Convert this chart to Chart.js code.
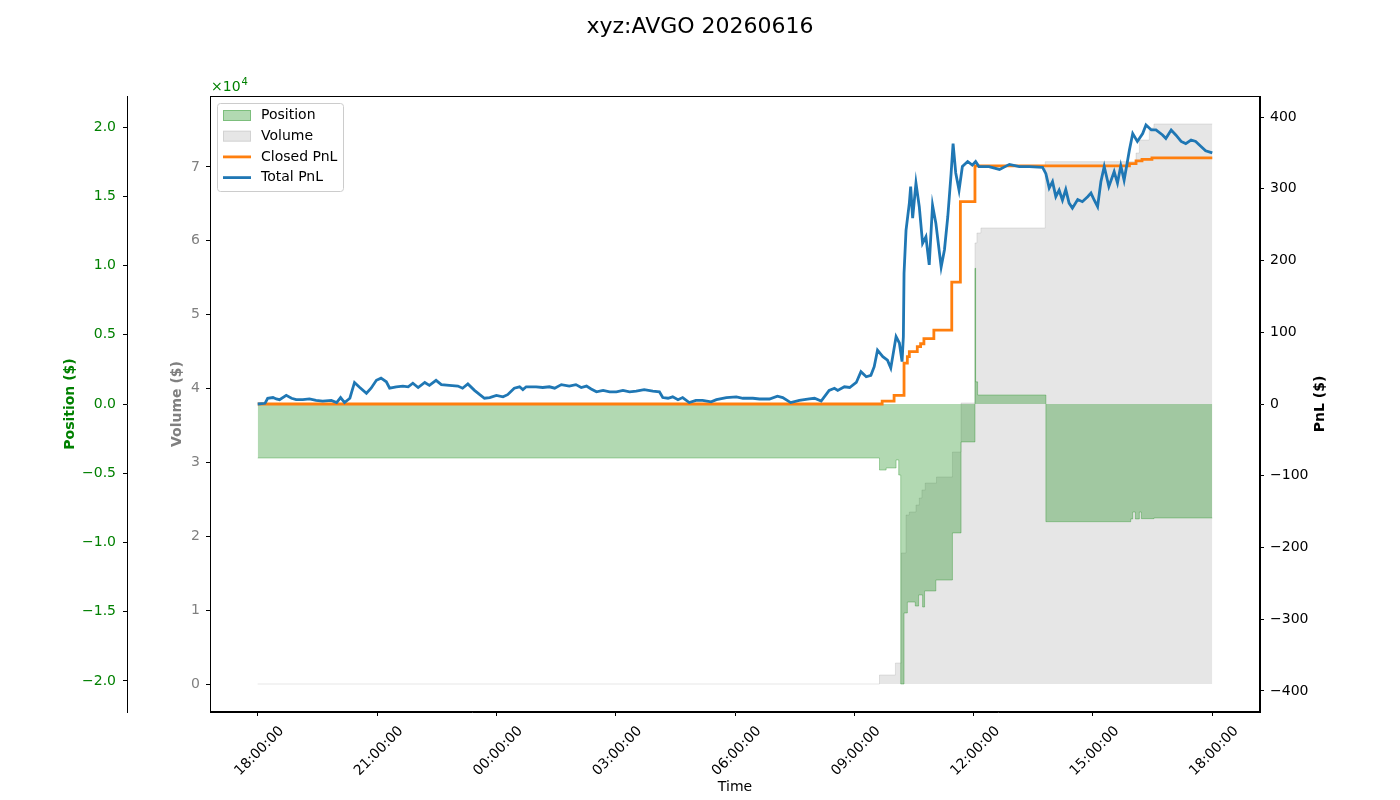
<!DOCTYPE html>
<html>
<head>
<meta charset="utf-8">
<title>xyz:AVGO 20260616</title>
<script src="https://cdn.jsdelivr.net/npm/chart.js@4.4.1/dist/chart.umd.min.js"></script>
<style>
  html, body { margin: 0; padding: 0; background: #fff; }
  #wrap { width: 1400px; height: 800px; }
</style>
</head>
<body>
<div id="wrap"><canvas id="pnlChart" width="1400" height="800"></canvas></div>
<script>
/* ── Data (time = minutes since 18:00) ───────────── */
const totalPnlTime = [0, 11, 15, 23, 28, 33, 43, 51, 58, 68, 78, 88, 98, 111, 119, 125, 131, 139, 146, 154,
  164, 171, 179, 186, 194, 199, 209, 219, 227, 234, 242, 252, 259, 269, 277, 289, 302, 309, 317, 327,
  335, 342, 350, 360, 370, 377, 387, 395, 400, 405, 420, 430, 440, 448, 458, 470, 480, 488, 496, 503,
  511, 521, 531, 541, 551, 561, 571, 583, 596, 606, 611, 619, 626, 634, 641, 651, 661, 671, 684, 692,
  707, 722, 732, 747, 757, 772, 784, 792, 804, 817, 832, 840, 850, 862, 870, 875, 885, 893, 903, 910,
  918, 925, 930, 935, 943, 950, 955, 963, 968, 972, 974, 975, 978, 983, 985, 988, 993, 998, 1003, 1008,
  1013, 1018, 1023, 1031, 1036, 1041, 1046, 1049, 1053, 1058, 1063, 1071, 1078, 1083, 1088, 1103, 1119, 1134, 1149, 1164,
  1184, 1189, 1194, 1199, 1204, 1209, 1214, 1219, 1224, 1229, 1237, 1244, 1252, 1257, 1262, 1267, 1272, 1277, 1284, 1292,
  1297, 1302, 1307, 1312, 1315, 1320, 1327, 1335, 1340, 1348, 1355, 1365, 1370, 1378, 1385, 1393, 1400, 1408, 1415, 1423,
  1430, 1440];
const totalPnl = [0, 1, 8, 9, 7, 6, 12, 8, 6, 6, 7, 5, 4, 5, 2, 9, 2, 8, 30, 23,
  15, 22, 33, 36, 31, 22, 24, 25, 24, 29, 23, 30, 26, 33, 27, 26, 25, 22, 28, 19,
  13, 8, 9, 12, 10, 13, 22, 24, 20, 24, 24, 23, 24, 22, 27, 25, 27, 23, 25, 21,
  17, 19, 17, 17, 19, 17, 18, 20, 18, 17, 9, 8, 10, 6, 9, 2, 5, 5, 3, 6,
  9, 10, 8, 8, 7, 7, 11, 9, 2, 5, 7, 8, 4, 19, 22, 19, 24, 23, 30, 45,
  38, 40, 52, 75, 66, 61, 50, 94, 85, 59, 94, 182, 242, 280, 303, 259, 308, 275, 224, 233,
  194, 277, 252, 191, 215, 261, 321, 363, 322, 298, 331, 338, 333, 338, 331, 331, 327, 334, 331, 331,
  330, 321, 301, 310, 289, 298, 284, 299, 280, 273, 285, 282, 289, 294, 284, 275, 310, 331, 303, 324,
  308, 332, 312, 338, 354, 377, 366, 377, 389, 382, 382, 375, 370, 382, 375, 366, 363, 368, 366, 359,
  353, 350];

const closedPnlTime = [0, 942, 960, 975, 980, 983, 995, 1000, 1005, 1020, 1047, 1060, 1082, 1315, 1325, 1334, 1349, 1440];
const closedPnl     = [0, 4, 12, 57, 66, 73, 80, 84, 91, 103, 170, 282, 332, 335, 339, 341, 343, 343];

const positionTime = [0, 938, 948, 963, 967, 970, 975, 980, 992, 997, 1003, 1006, 1023, 1048, 1061, 1082, 1083, 1086,
  1189, 1317, 1320, 1324, 1330, 1333, 1352, 1440];
const position     = [-3900, -4770, -4620, -4040, -5130, -20220, -15090, -14300, -14590, -13790, -14660, -13500, -12710, -9310, -2740, 9800, 1600, 650,
  -8500, -8300, -7800, -8300, -7800, -8280, -8230, -8230];

const volumeTime = [0, 938, 962, 971, 978, 983, 993, 998, 1002, 1007, 1024, 1048, 1061, 1082, 1085, 1091, 1188, 1318, 1325, 1330, 1345, 1352, 1440];
const volume     = [0, 1220, 2840, 17740, 22880, 23290, 24230, 25180, 26270, 27210, 28030, 31410, 38050, 59710, 61060, 61740, 70720, 70720, 71890, 73650, 75280, 75820, 75820];

const timeTicks      = [0, 180, 360, 540, 720, 900, 1080, 1260, 1440];
const timeTickLabels = ['18:00:00', '21:00:00', '00:00:00', '03:00:00', '06:00:00', '09:00:00', '12:00:00', '15:00:00', '18:00:00'];
const positionTicks  = [-20000, -15000, -10000, -5000, 0, 5000, 10000, 15000, 20000];
const volumeTicks    = [0, 10000, 20000, 30000, 40000, 50000, 60000, 70000];
const pnlTicks       = [-400, -300, -200, -100, 0, 100, 200, 300, 400];

/* ── Helpers ──────────────────────────────────────── */
const FONT = 'DejaVu Sans';
Chart.defaults.font.family = FONT;
Chart.defaults.font.size = 14;
Chart.defaults.color = '#000';

const toPoints = (xs, ys) => xs.map((x, i) => ({ x, y: ys[i] }));
const fixTicks = vals => scale => { scale.ticks = vals.map(v => ({ value: v })); };
const minus = s => String(s).replace('-', '\u2212');

const C_GREEN = '#008000';
const C_ORANGE = '#ff7f0e';
const C_BLUE = '#1f77b4';

/* ── Overlay: frame, legend, extra labels ─────────── */
const overlay = {
  id: 'overlay',
  afterDraw(chart) {
    const { ctx, chartArea: a } = chart;
    ctx.save();

    // frame
    ctx.strokeStyle = '#000';
    ctx.lineWidth = 1;
    ctx.strokeRect(a.left + 0.5, a.top + 0.5, a.right - a.left - 1, a.bottom - a.top - 1);

    // PnL axis title (reads bottom to top)
    ctx.save();
    ctx.translate(1320, (a.top + a.bottom) / 2);
    ctx.rotate(-Math.PI / 2);
    ctx.font = `bold 14px "${FONT}"`;
    ctx.fillStyle = '#000';
    ctx.textAlign = 'center';
    ctx.textBaseline = 'middle';
    ctx.fillText('PnL ($)', 0, 0);
    ctx.restore();

    // x10^4 offset label
    ctx.fillStyle = C_GREEN;
    ctx.textAlign = 'left';
    ctx.textBaseline = 'alphabetic';
    ctx.font = `14px "${FONT}"`;
    ctx.fillText('\u00d710', a.left + 1, a.top - 5);
    const w = ctx.measureText('\u00d710').width;
    ctx.font = `10px "${FONT}"`;
    ctx.fillText('4', a.left + 1 + w + 1, a.top - 11);

    // legend
    const lx = a.left + 7, ly = a.top + 7, lw = 126, lh = 88;
    ctx.beginPath();
    ctx.roundRect(lx + 0.5, ly + 0.5, lw, lh, 3);
    ctx.fillStyle = 'rgba(255,255,255,0.8)';
    ctx.fill();
    ctx.strokeStyle = '#cccccc';
    ctx.stroke();

    const items = [
      { label: 'Position', type: 'patch', fill: 'rgba(0,128,0,0.3)', edge: 'rgba(0,128,0,0.3)' },
      { label: 'Volume', type: 'patch', fill: 'rgba(128,128,128,0.2)', edge: 'rgba(128,128,128,0.2)' },
      { label: 'Closed PnL', type: 'line', color: C_ORANGE },
      { label: 'Total PnL', type: 'line', color: C_BLUE },
    ];
    ctx.font = `14px "${FONT}"`;
    ctx.textBaseline = 'middle';
    items.forEach((it, i) => {
      const cy = ly + 12.5 + i * 20.7;
      if (it.type === 'patch') {
        ctx.fillStyle = it.fill;
        ctx.fillRect(lx + 6, cy - 5.5, 28, 11);
        ctx.strokeStyle = it.edge;
        ctx.strokeRect(lx + 6.5, cy - 5, 27, 10);
      } else {
        ctx.strokeStyle = it.color;
        ctx.lineWidth = 2.8;
        ctx.beginPath();
        ctx.moveTo(lx + 6, cy);
        ctx.lineTo(lx + 34, cy);
        ctx.stroke();
        ctx.lineWidth = 1;
      }
      ctx.fillStyle = '#000';
      ctx.fillText(it.label, lx + 44, cy);
    });

    ctx.restore();
  }
};

/* ── Chart ────────────────────────────────────────── */
new Chart(document.getElementById('pnlChart'), {
  type: 'line',
  data: {
    datasets: [
      {
        label: 'Total PnL',
        data: toPoints(totalPnlTime, totalPnl),
        yAxisID: 'yPnl',
        borderColor: C_BLUE,
        borderWidth: 2.8,
        pointRadius: 0,
        fill: false,
        order: 1,
      },
      {
        label: 'Closed PnL',
        data: toPoints(closedPnlTime, closedPnl),
        yAxisID: 'yPnl',
        borderColor: C_ORANGE,
        borderWidth: 2.8,
        pointRadius: 0,
        stepped: 'before',
        fill: false,
        order: 2,
      },
      {
        label: 'Position',
        data: toPoints(positionTime, position),
        yAxisID: 'yPos',
        borderColor: 'rgba(0,128,0,0.3)',
        backgroundColor: 'rgba(0,128,0,0.3)',
        borderWidth: 1,
        pointRadius: 0,
        stepped: 'before',
        fill: 'origin',
        order: 3,
      },
      {
        label: 'Volume',
        data: toPoints(volumeTime, volume),
        yAxisID: 'yVol',
        borderColor: 'rgba(128,128,128,0.2)',
        backgroundColor: 'rgba(128,128,128,0.2)',
        borderWidth: 1,
        pointRadius: 0,
        stepped: 'before',
        fill: 'origin',
        order: 4,
      },
    ],
  },
  options: {
    responsive: false,
    animation: false,
    layout: { padding: 0 },
    plugins: {
      legend: { display: false },
      tooltip: { enabled: false },
      title: {
        display: true,
        text: 'xyz:AVGO 20260616',
        color: '#000',
        font: { size: 22, weight: 'normal' },
        padding: { top: 14, bottom: 55.6 },
      },
    },
    scales: {
      x: {
        type: 'linear',
        position: 'bottom',
        min: -72,
        max: 1512,
        afterBuildTicks: fixTicks(timeTicks),
        afterFit: s => { s.height = 88; },
        ticks: {
          autoSkip: false,
          minRotation: 45,
          maxRotation: 45,
          labelOffset: 24,
          padding: 7,
          color: '#000',
          callback: (v, i) => timeTickLabels[i],
        },
        grid: { drawOnChartArea: false, tickLength: 4, tickColor: '#000' },
        border: { color: '#000' },
        title: { display: true, text: 'Time', color: '#000', padding: { top: 0, bottom: 4 } },
      },
      yPos: {
        type: 'linear',
        position: 'left',
        weight: 1,
        min: -22240,
        max: 22240,
        afterBuildTicks: fixTicks(positionTicks),
        afterFit: s => { s.width = 127; },
        ticks: { color: C_GREEN, padding: 7, callback: v => minus((v / 10000).toFixed(1)) },
        grid: { drawOnChartArea: false, tickLength: 4, tickColor: '#000' },
        border: { color: '#000' },
        title: { display: true, text: 'Position ($)', color: C_GREEN, font: { weight: 'bold' }, padding: { top: 61.6, bottom: 0 } },
      },
      yVol: {
        type: 'linear',
        position: 'left',
        weight: 0,
        min: -3790,
        max: 79610,
        afterBuildTicks: fixTicks(volumeTicks),
        afterFit: s => { s.width = 83; },
        ticks: { color: 'gray', padding: 6, callback: v => (v / 10000).toFixed(0) },
        grid: { drawOnChartArea: false, tickLength: 4, tickColor: '#000' },
        border: { color: '#000' },
        title: { display: true, text: 'Volume ($)', color: 'gray', font: { weight: 'bold' }, padding: { top: 41.6, bottom: 0 } },
      },
      yPnl: {
        type: 'linear',
        position: 'right',
        min: -429.3,
        max: 429.3,
        afterBuildTicks: fixTicks(pnlTicks),
        afterFit: s => { s.width = 140; },
        ticks: { color: '#000', padding: 6, callback: v => minus(v) },
        grid: { drawOnChartArea: false, tickLength: 4, tickColor: '#000' },
        border: { color: '#000' },
      },
    },
  },
  plugins: [overlay],
});
</script>
</body>
</html>
